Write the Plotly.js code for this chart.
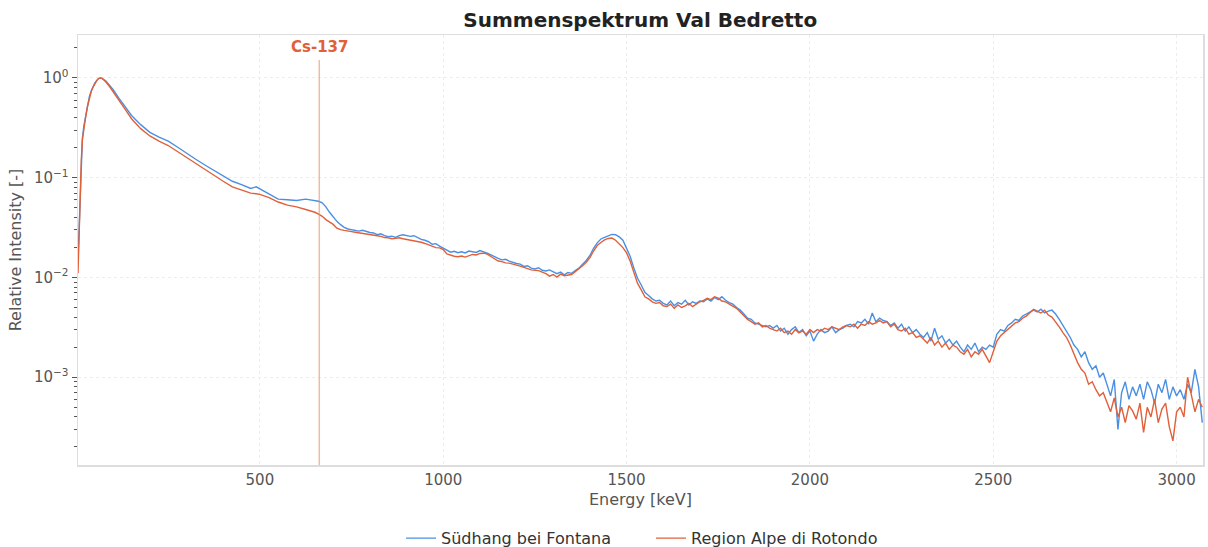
<!DOCTYPE html>
<html>
<head>
<meta charset="utf-8">
<script src="https://cdn.plot.ly/plotly-3.0.1.min.js"></script>
<style>html,body{margin:0;padding:0;background:#fff;}#chart{width:1208px;height:547px;}</style>
</head>
<body>
<div id="chart"></div>
<script>
// Energy grid [keV]
const energyLow = [4,7,10,13,16,20,25,30,35,40,45,50,55,60,65,70,80,90,100,115,130,150,175,200,225,250,275,300,325,350,375,400,425,450,475,490,500,525,550,575,600,625,650,660,670,680,690,700];
const energyHigh = [710,720,730,740,750,760,770,780,790,800,
810,820,830,840,850,860,870,880,890,900,
910,920,930,940,950,960,970,980,990,1000,
1010,1020,1030,1040,1050,1060,1070,1080,1090,1100,
1110,1120,1130,1140,1150,1160,1170,1180,1190,1200,
1210,1220,1230,1240,1250,1260,1270,1280,1290,1300,
1310,1320,1330,1340,1350,1360,1370,1380,1390,1400,
1410,1420,1430,1440,1450,1460,1470,1480,1490,1500,
1510,1520,1530,1540,1550,1560,1570,1580,1590,1600,
1610,1620,1630,1640,1650,1660,1670,1680,1690,1700,
1710,1720,1730,1740,1750,1760,1770,1780,1790,1800,
1810,1820,1830,1840,1850,1860,1870,1880,1890,1900,
1910,1920,1930,1940,1950,1960,1970,1980,1990,2000,
2010,2020,2030,2040,2050,2060,2070,2080,2090,2100,
2110,2120,2130,2140,2150,2160,2170,2180,2190,2200,
2210,2220,2230,2240,2250,2260,2270,2280,2290,2300,
2310,2320,2330,2340,2350,2360,2370,2380,2390,2400,
2410,2420,2430,2440,2450,2460,2470,2480,2490,2500,
2510,2520,2530,2540,2550,2560,2570,2580,2590,2600,
2610,2620,2630,2640,2650,2660,2670,2680,2690,2700,
2710,2720,2730,2740,2750,2760,2770,2780,2790,2800,
2810,2820,2830,2840,2850,2860,2870,2880,2890,2900,
2910,2920,2930,2940,2950,2960,2970,2980,2990,3000,
3010,3020,3030,3040,3050,3060,3070];
const energy = energyLow.concat(energyHigh);

// Südhang bei Fontana (relative intensity)
const fontanaLow = [0.015,0.035,0.08,0.16,0.25,0.33,0.42,0.53,0.65,0.74,0.82,0.89,0.94,0.985,1.0,0.99,0.93,0.85,0.76,0.63,0.53,0.42,0.34,0.285,0.255,0.232,0.203,0.178,0.153,0.134,0.118,0.104,0.092,0.085,0.078,0.081,0.077,0.068,0.061,0.060,0.059,0.061,0.059,0.058,0.056,0.051,0.045,0.040];
const fontanaHigh = [0.0365,0.0338,0.0318,0.0306,0.0302,0.0296,0.0291,0.0297,0.0288,0.0282,
0.0279,0.0268,0.0274,0.0262,0.0256,0.0259,0.0252,0.0263,0.0268,0.0262,
0.0258,0.0262,0.0249,0.0241,0.0236,0.0228,0.0215,0.0218,0.0206,0.0197,
0.0186,0.0179,0.0183,0.0177,0.0181,0.0176,0.0184,0.0180,0.0178,0.0186,
0.0182,0.0175,0.0168,0.0160,0.0155,0.0150,0.0152,0.0146,0.0141,0.0138,
0.0136,0.0129,0.0131,0.0124,0.0122,0.0125,0.0118,0.0116,0.0119,0.0113,
0.0109,0.0113,0.0106,0.0112,0.0110,0.0117,0.0124,0.0136,0.0148,0.0166,
0.0196,0.0222,0.0243,0.0252,0.0262,0.0270,0.0268,0.0255,0.0236,0.0196,
0.0162,0.0124,0.0098,0.0084,0.0071,0.0066,0.0061,0.0058,0.0059,0.0055,
0.0053,0.0058,0.0052,0.0056,0.0054,0.0059,0.0053,0.0057,0.0055,0.0058,
0.0057,0.0061,0.0058,0.0063,0.0060,0.0064,0.0059,0.0056,0.0054,0.0050,
0.0047,0.0043,0.0039,0.0038,0.0035,0.0034,0.0033,0.0032,0.0033,0.0031,
0.0033,0.0029,0.0031,0.0027,0.0030,0.0032,0.0028,0.0030,0.0026,0.0029,
0.0023,0.0027,0.0030,0.0028,0.0029,0.0032,0.0028,0.0030,0.0031,0.0033,
0.0034,0.0032,0.0036,0.0035,0.0038,0.0034,0.0044,0.0036,0.0039,0.0037,
0.0036,0.0033,0.0035,0.0031,0.0034,0.0029,0.0032,0.0028,0.0030,0.0027,
0.0025,0.0028,0.0023,0.0031,0.0024,0.0026,0.0022,0.0024,0.0021,0.0023,
0.0020,0.0018,0.0021,0.0019,0.0022,0.0018,0.0020,0.0019,0.0021,0.0020,
0.0027,0.0030,0.0029,0.0033,0.0035,0.0038,0.0037,0.0041,0.0043,0.0045,
0.0047,0.0045,0.0048,0.0044,0.0046,0.0047,0.0043,0.0038,0.0033,0.0029,
0.0025,0.0021,0.0019,0.0016,0.0018,0.0014,0.0012,0.0013,0.0010,0.0011,
0.00085,0.00065,0.00095,0.00030,0.00070,0.00090,0.00060,0.00080,0.00065,0.00085,
0.00060,0.00090,0.00075,0.00055,0.00085,0.00070,0.00095,0.00060,0.00080,0.00065,
0.00075,0.00060,0.00085,0.00070,0.0012,0.00080,0.00035];
const fontana = fontanaLow.concat(fontanaHigh);

// Region Alpe di Rotondo (relative intensity)
const rotondoLow = [0.011,0.03,0.07,0.15,0.24,0.32,0.41,0.52,0.64,0.73,0.81,0.88,0.94,0.985,1.0,0.985,0.91,0.82,0.73,0.60,0.50,0.39,0.31,0.262,0.232,0.210,0.183,0.158,0.137,0.119,0.105,0.092,0.081,0.075,0.070,0.069,0.068,0.063,0.057,0.053,0.051,0.048,0.045,0.043,0.041,0.038,0.036,0.034];
const rotondoHigh = [0.0312,0.0301,0.0296,0.0290,0.0288,0.0284,0.0281,0.0276,0.0272,0.0270,
0.0268,0.0262,0.0258,0.0251,0.0249,0.0244,0.0246,0.0250,0.0244,0.0240,
0.0238,0.0236,0.0231,0.0225,0.0219,0.0213,0.0204,0.0199,0.0198,0.0190,
0.0172,0.0166,0.0163,0.0161,0.0164,0.0160,0.0166,0.0170,0.0168,0.0174,
0.0175,0.0171,0.0162,0.0153,0.0146,0.0144,0.0140,0.0139,0.0135,0.0133,
0.0130,0.0126,0.0122,0.0119,0.0118,0.0117,0.0113,0.0109,0.0103,0.0107,
0.0101,0.0108,0.0104,0.0106,0.0107,0.0114,0.0121,0.0131,0.0142,0.0158,
0.0184,0.0209,0.0224,0.0238,0.0246,0.0248,0.0236,0.0218,0.0199,0.0176,
0.0145,0.0112,0.0087,0.0075,0.0064,0.0061,0.0057,0.0055,0.0056,0.0052,
0.0051,0.0054,0.0049,0.0053,0.0050,0.0052,0.0055,0.0051,0.0054,0.0057,
0.0059,0.0062,0.0060,0.0064,0.0062,0.0058,0.0057,0.0054,0.0051,0.0049,
0.0045,0.0041,0.0038,0.0036,0.0034,0.0035,0.0032,0.0033,0.0031,0.0030,
0.0029,0.0031,0.0028,0.0029,0.0027,0.0030,0.0028,0.0029,0.0027,0.0030,
0.0028,0.0030,0.0029,0.0031,0.0030,0.0032,0.0031,0.0030,0.0032,0.0033,
0.0032,0.0034,0.0031,0.0034,0.0033,0.0036,0.0034,0.0035,0.0037,0.0035,
0.0036,0.0032,0.0034,0.0030,0.0029,0.0031,0.0027,0.0028,0.0025,0.0026,
0.0024,0.0022,0.0025,0.0021,0.0023,0.0020,0.0022,0.0019,0.0021,0.0020,
0.0018,0.0017,0.0019,0.0016,0.0018,0.0017,0.0019,0.0016,0.0014,0.0018,
0.0023,0.0026,0.0028,0.0030,0.0033,0.0035,0.0036,0.0039,0.0041,0.0044,
0.0048,0.0046,0.0044,0.0047,0.0042,0.0040,0.0036,0.0032,0.0028,0.0025,
0.0021,0.0017,0.0014,0.0012,0.0011,0.00085,0.0009,0.00075,0.00065,0.00070,
0.00055,0.00045,0.00062,0.00040,0.00050,0.00035,0.00052,0.00046,0.00038,0.00055,
0.00028,0.00050,0.00040,0.00060,0.00035,0.00048,0.00055,0.00032,0.00023,0.00045,
0.00050,0.00040,0.0010,0.00065,0.00045,0.00060,0.00050];
const rotondo = rotondoLow.concat(rotondoHigh);

const seriesNames = ['Südhang bei Fontana', 'Region Alpe di Rotondo'];
const markerLines = [{label: 'Cs-137', energy: 662}];

const yTickVals = [1, 0.1, 0.01, 0.001];
const yTickText = ['10<sup>0</sup>', '10<sup>−1</sup>', '10<sup>−2</sup>', '10<sup>−3</sup>'];
const yMinorVals = [2, 0.9,0.8,0.7,0.6,0.5,0.4,0.3,0.2, 0.09,0.08,0.07,0.06,0.05,0.04,0.03,0.02, 0.009,0.008,0.007,0.006,0.005,0.004,0.003,0.002, 0.0009,0.0008,0.0007,0.0006,0.0005,0.0004,0.0003,0.0002];
const xTickVals = [500, 1000, 1500, 2000, 2500, 3000];

const FONT = 'DejaVu Sans, sans-serif';
const traces = [
  {x: energy, y: fontana, type: 'scatter', mode: 'lines', name: seriesNames[0],
   line: {color: '#4a90e2', width: 1.4}},
  {x: energy, y: rotondo, type: 'scatter', mode: 'lines', name: seriesNames[1],
   line: {color: '#e0603a', width: 1.4}}
];

const shapes = markerLines.map(m => ({
  type: 'line', xref: 'x', yref: 'paper', x0: m.energy, x1: m.energy, y0: 0, y1: 0.942,
  line: {color: 'rgba(232,140,100,0.6)', width: 1.5}
}));
const annotations = markerLines.map(m => ({
  xref: 'x', yref: 'paper', x: m.energy, y: 0.947, yanchor: 'bottom', showarrow: false,
  text: '<b>' + m.label + '</b>', font: {family: FONT, size: 15, color: '#e0603a'}
}));

const layout = {
  width: 1208, height: 547,
  paper_bgcolor: '#ffffff', plot_bgcolor: '#ffffff',
  margin: {l: 78, r: 5, t: 35, b: 82, autoexpand: false},
  font: {family: FONT, color: '#555555'},
  title: {text: '<b>Summenspektrum Val Bedretto</b>', x: 0.53, xanchor: 'center', y: 0.963, yanchor: 'middle',
          font: {family: FONT, size: 20, color: '#222222'}},
  showlegend: true,
  legend: {orientation: 'h', xref: 'container', yref: 'container', x: 0.332, xanchor: 'left',
           y: 0.016, yanchor: 'middle', entrywidth: 205, entrywidthmode: 'pixels',
           font: {family: FONT, size: 16, color: '#333333'}},
  xaxis: {
    range: [4, 3072], tickmode: 'array', tickvals: xTickVals,
    tickfont: {family: FONT, size: 15, color: '#555555'},
    title: {text: 'Energy [keV]', font: {family: FONT, size: 16, color: '#555555'}, standoff: 6},
    showgrid: true, gridcolor: '#ededed', griddash: 'dot', gridwidth: 1,
    showline: true, linecolor: '#dddddd', linewidth: 1.5, mirror: true,
    ticks: '', zeroline: false, automargin: false
  },
  yaxis: {
    type: 'log', range: [-3.88, 0.43], tickmode: 'array', tickvals: yTickVals, ticktext: yTickText,
    tickfont: {family: FONT, size: 15, color: '#555555'},
    title: {text: 'Relative Intensity [-]', font: {family: FONT, size: 16, color: '#555555'}, standoff: 8},
    showgrid: true, gridcolor: '#ededed', griddash: 'dot', gridwidth: 1,
    showline: true, linecolor: '#dddddd', linewidth: 1.5, mirror: true,
    ticks: 'outside', ticklen: 5, tickcolor: '#555555', tickwidth: 1,
    minor: {tickmode: 'array', tickvals: yMinorVals, ticks: 'outside', ticklen: 3, tickcolor: '#555555', showgrid: false},
    zeroline: false, automargin: false
  },
  shapes: shapes,
  annotations: annotations
};

Plotly.newPlot('chart', traces, layout, {displayModeBar: false, staticPlot: true});
</script>
</body>
</html>
